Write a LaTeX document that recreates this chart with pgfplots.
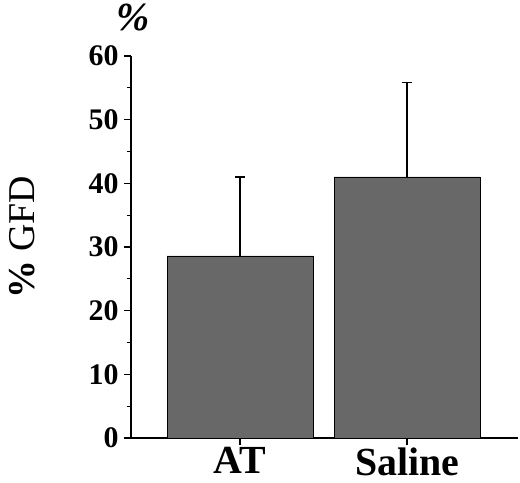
\documentclass[border=0pt]{standalone}
\usepackage{fontspec}
\setmainfont{Liberation Serif}
\usepackage{pgfplots}
\pgfplotsset{compat=1.18}
\definecolor{bargray}{RGB}{104,104,104}
\begin{document}
\begin{tikzpicture}
\path[use as bounding box] (-131bp,-45bp) rectangle (389bp,438bp);
\begin{axis}[
    at={(0,0)}, anchor=south west,
    scale only axis,
    width=387bp, height=382bp,
    xmin=-0.653, xmax=1.664,
    ymin=0, ymax=60,
    axis x line=bottom, axis y line=left,
    axis line style={-, line width=1.5bp},
    xtick=data, xticklabels={AT, Saline},
    ytick={0,10,...,60},
    minor y tick num=1,
    tick align=outside,
    major tick length=7bp, minor tick length=4bp,
    tick style={line width=1.2bp, black},
    /pgf/number format/assume math mode=true,
    yticklabel style={font=\fontsize{30}{30}\selectfont\bfseries, xshift=-2bp},
    xticklabel style={font=\fontsize{40}{40}\selectfont\bfseries, yshift=1bp},
    ylabel={\textbf{\%} GFD},
    every axis y label/.style={at={(axis description cs:-0.282,0.525)}, rotate=90,
        anchor=center, font=\fontsize{38}{38}\selectfont},
    ybar, bar width=0.874,
]
\addplot[fill=bargray, draw=black, line width=0.8bp,
    error bars/.cd, y dir=plus, y explicit,
    error mark=|,
    error bar style={line width=1.5bp, black},
    error mark options={line width=1.5bp, mark size=5bp, black}]
coordinates {
    (0,28.6) +- (0,12.4)
    (1,41.0) +- (0,14.8)
};
\end{axis}
\node[font=\fontsize{40}{40}\selectfont\bfseries\itshape] at (2bp,420bp) {\%};
\end{tikzpicture}
\end{document}
